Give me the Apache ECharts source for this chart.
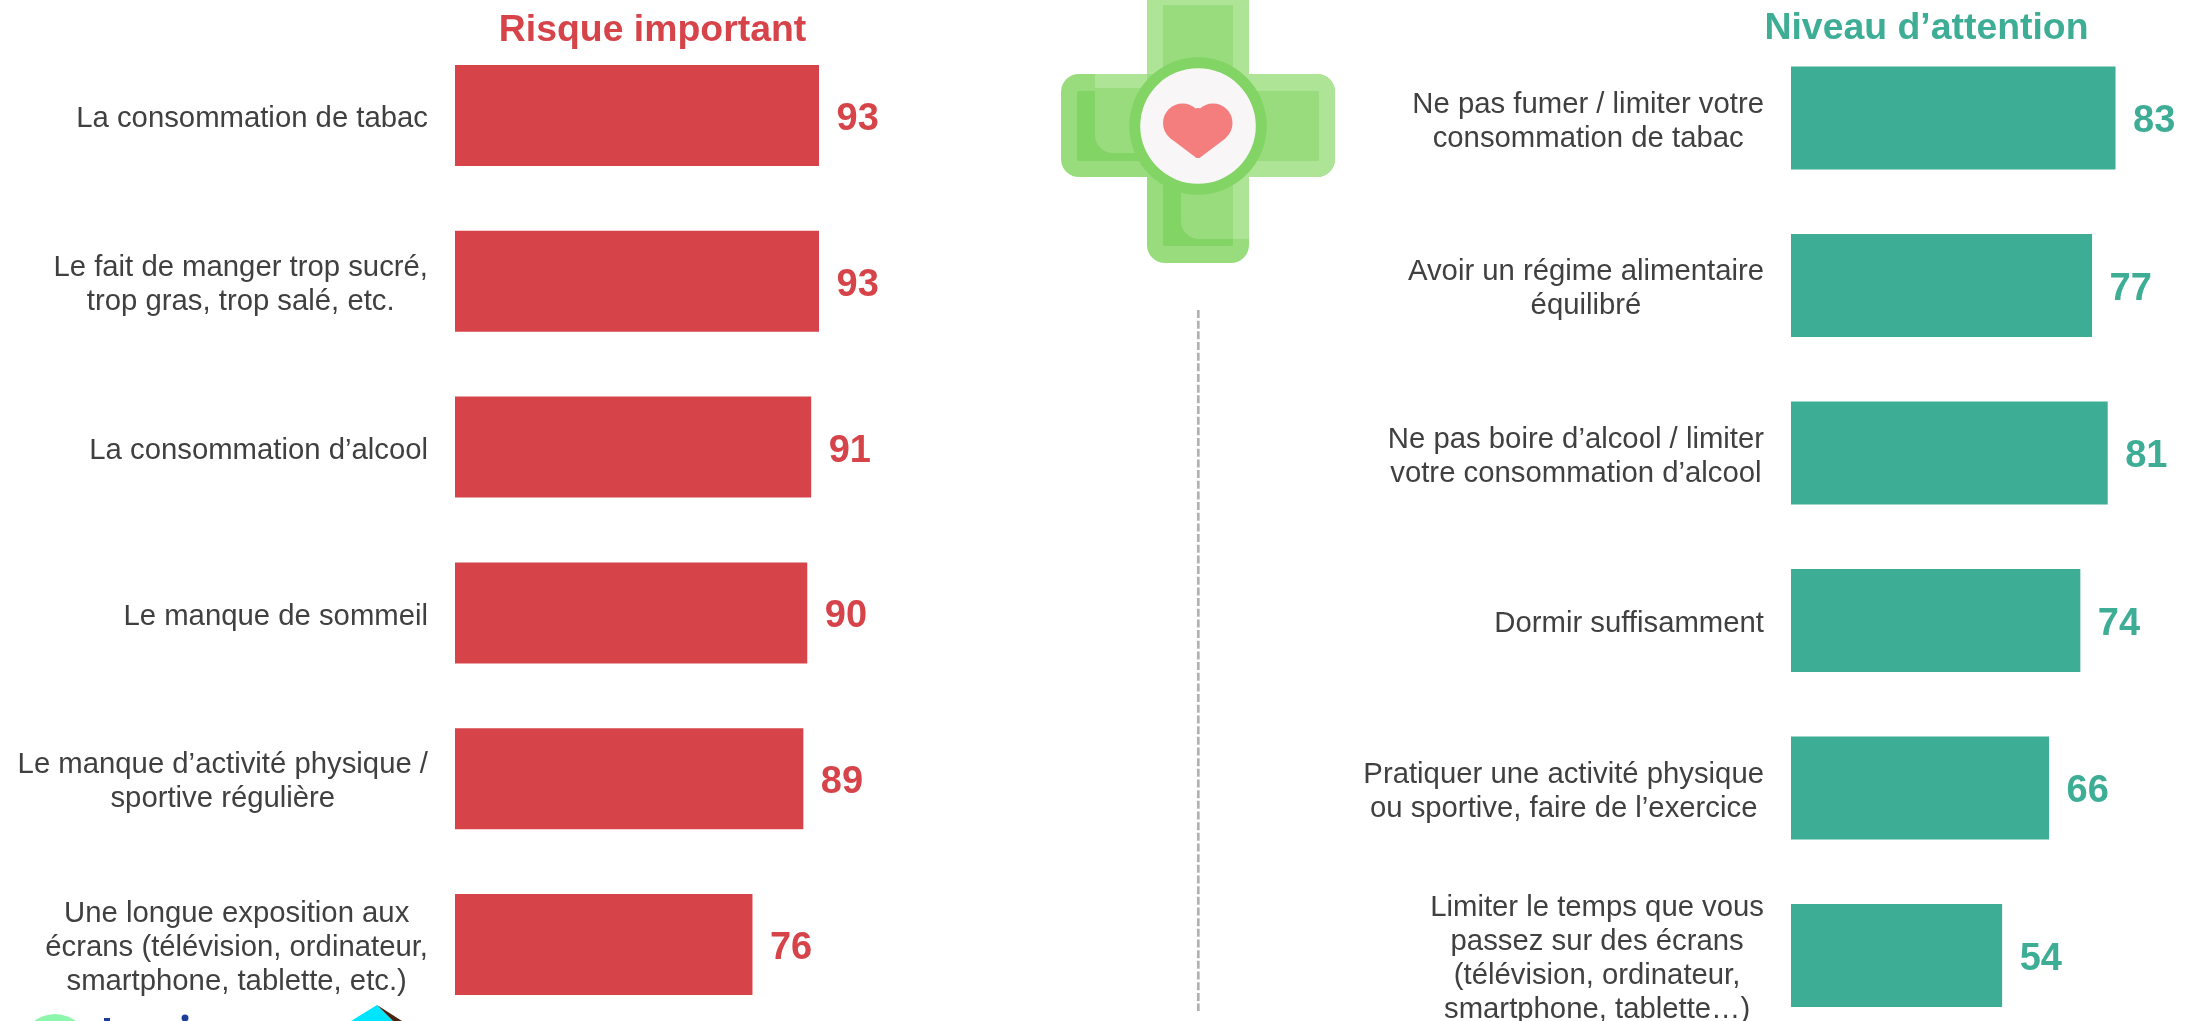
<!DOCTYPE html>
<html><head><meta charset="utf-8">
<style>html,body{margin:0;padding:0;background:#fff}#c{width:2187px;height:1021px}</style>
<script src="https://cdn.jsdelivr.net/npm/echarts@6/dist/echarts.min.js"></script>
</head><body><div id="c"></div>
<script>
const leftTitle = 'Risque important';
const rightTitle = 'Niveau d’attention';
const leftCategories = [
  'La consommation de tabac',
  'Le fait de manger trop sucré,\ntrop gras, trop salé, etc.',
  'La consommation d’alcool',
  'Le manque de sommeil',
  'Le manque d’activité physique /\nsportive régulière',
  'Une longue exposition aux\nécrans (télévision, ordinateur,\nsmartphone, tablette, etc.)'
];
const leftValues = [93, 93, 91, 90, 89, 76];
const rightCategories = [
  'Ne pas fumer / limiter votre\nconsommation de tabac',
  'Avoir un régime alimentaire\néquilibré',
  'Ne pas boire d’alcool / limiter\nvotre consommation d’alcool',
  'Dormir suffisamment',
  'Pratiquer une activité physique\nou sportive, faire de l’exercice',
  'Limiter le temps que vous\npassez sur des écrans\n(télévision, ordinateur,\nsmartphone, tablette…)'
];
const rightValues = [83, 77, 81, 74, 66, 54];
const RED = '#D6444A', TEAL = '#3EAD95', TXT = '#404040';
const G1 = '#98DC7D', G2 = '#AEE495', G3 = '#82D465';

const rich = {c:{align:'center',fontFamily:'Liberation Sans',fontSize:29.3,lineHeight:34,color:TXT}};
const fmt = s => s.split('\n').map(l => '{c|' + l + '}').join('\n');
function yAxis(gridIndex, data){
  return {type:'category',gridIndex,data,inverse:true,axisLine:{show:false},axisTick:{show:false},
    axisLabel:{margin:27,align:'right',formatter:fmt,rich,interval:0,padding:[7,0,0,0]}};
}
function xAxis(gridIndex){
  return {type:'value',gridIndex,min:0,max:100,show:false,splitLine:{show:false}};
}
function bars(i, data, color, w){
  return {type:'bar',xAxisIndex:i,yAxisIndex:i,data,barWidth:w,itemStyle:{color},silent:true,
    label:{show:true,position:'right',distance:18,offset:[-0.5,4],fontFamily:'Liberation Sans',fontWeight:'bold',fontSize:38,color}};
}
const rr = (x,y,w,h,r,fill,z) => ({type:'rect',shape:{x,y,width:w,height:h,r},style:{fill},z:z||10});
const gfx = [
  // dashed separator
  {type:'line',shape:{x1:1198.3,y1:310,x2:1198.3,y2:1011},style:{stroke:'#B3B0B2',lineWidth:2.7,lineDash:[8,2.67]},z:5},
  // medical cross icon
  rr(1147,-20,102,283,18,G1), rr(1061,74,274,103,18,G1),
  rr(1249,74,86,103,[0,18,18,0],G2,11),
  rr(1233,-20,16,259,0,G2,11), rr(1147,-20,16,94,0,G2,11), rr(1095,74,52,17,0,G2,11),
  rr(1163,-20,70,25,0,G2,11),
  rr(1163,5,70,241,2,G1,12), rr(1077,91,242,70,2,G1,12),
  rr(1233,91,86,70,2,G1,12),
  rr(1077,91,82,70,2,G3,13), rr(1095,88,60,65,[0,0,6,18],G1,13.5),
  rr(1163,160,70,86,2,G3,13), rr(1181,180,52,59,[6,0,0,18],G1,13.5),
  rr(1233,160,16,79,0,G2,13.6),
  {type:'circle',shape:{cx:1198,cy:126,r:68.7},style:{fill:G3},z:14},
  {type:'circle',shape:{cx:1198,cy:126,r:57.8},style:{fill:'#F8F6F7'},z:15},
  {type:'circle',shape:{cx:1182.5,cy:123,r:19.5},style:{fill:'#F47E7E'},z:16},
  {type:'circle',shape:{cx:1213,cy:123,r:19.5},style:{fill:'#F47E7E'},z:16},
  {type:'polygon',shape:{points:[[1198,108],[1222,112],[1226,138],[1199.5,158],[1196.5,158],[1170,138],[1174,112]]},style:{fill:'#F47E7E'},z:16},
  // cropped logo at the bottom-left
  {type:'circle',shape:{cx:55,cy:1049,r:35},style:{fill:'#8CF7AC'},z:5},
  {type:'rect',shape:{x:104,y:1018,width:6,height:4},style:{fill:'#1A3E99'},z:5},
  {type:'circle',shape:{cx:185,cy:1018,r:3.5},style:{fill:'#1A3E99'},z:5},
  {type:'polygon',shape:{points:[[377,1005],[351,1021],[393,1021]]},style:{fill:'#00E5FF'},z:5},
  {type:'polygon',shape:{points:[[377,1005],[393,1021],[402,1021]]},style:{fill:'#4A2410'},z:6}
];
const chart = echarts.init(document.getElementById('c'),null,{renderer:'canvas'});
chart.setOption({
  animation:false,backgroundColor:'#fff',
  title:[
    {text:leftTitle,left:647.5,top:7,textAlign:'center',textStyle:{fontFamily:'Liberation Sans',fontWeight:'bold',fontSize:37.4,color:RED}},
    {text:rightTitle,left:1921.5,top:5.5,textAlign:'center',textStyle:{fontFamily:'Liberation Sans',fontWeight:'bold',fontSize:37.4,color:TEAL}}
  ],
  grid:[
    {left:455,top:32.5,width:391.4,height:995,outerBoundsMode:'none'},
    {left:1791,top:34.25,width:391,height:1005,outerBoundsMode:'none'}
  ],
  xAxis:[xAxis(0),xAxis(1)],
  yAxis:[yAxis(0,leftCategories),yAxis(1,rightCategories)],
  series:[bars(0,leftValues,RED,101),bars(1,rightValues,TEAL,103)],
  graphic:gfx
});
</script></body></html>
